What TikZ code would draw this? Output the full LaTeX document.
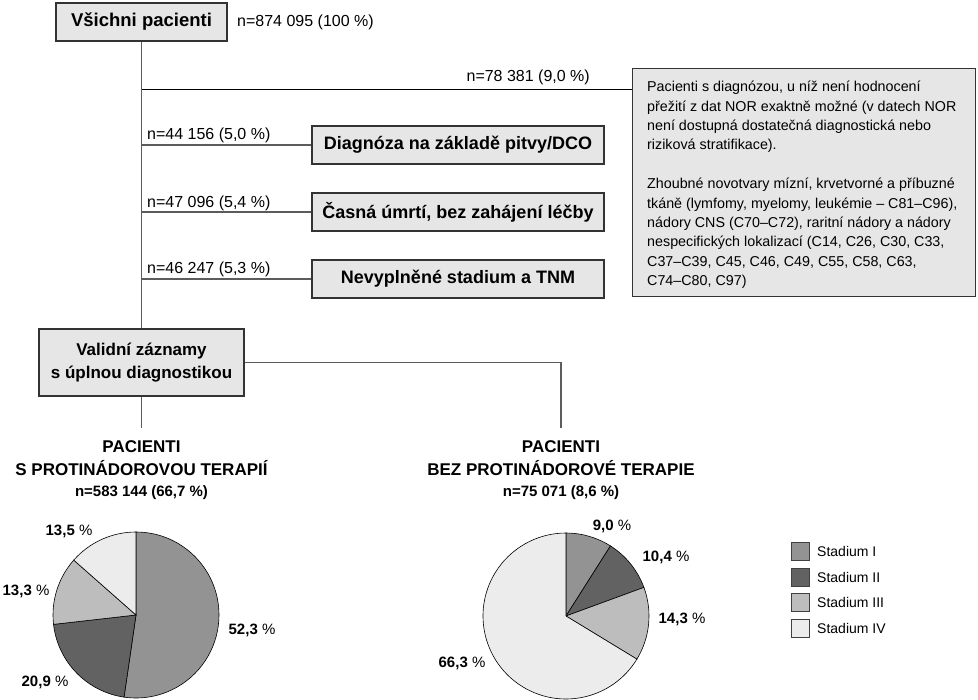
\documentclass[tikz,border=0pt]{standalone}
\usepackage{fontspec}
\setmainfont{Liberation Sans}
\definecolor{boxfill}{HTML}{E6E6E6}
\definecolor{boxline}{HTML}{333333}
\definecolor{conn}{HTML}{5C5C5C}
\definecolor{stI}{HTML}{939393}
\definecolor{stII}{HTML}{626262}
\definecolor{stIII}{HTML}{BDBDBD}
\definecolor{stIV}{HTML}{ECECEC}
\begin{document}
\begin{tikzpicture}[x=1pt,y=-1pt,
  graybox/.style={draw=boxline, fill=boxfill, line width=1.1pt, inner sep=0pt},
  conline/.style={draw=conn, line width=1.2pt},
  nlabel/.style={font=\fontsize{16}{18}\selectfont, inner sep=0pt},
  boxtext/.style={font=\fontsize{18}{20}\selectfont\bfseries},
  sidebox/.style={graybox, minimum width=292pt, minimum height=38pt, boxtext},
  titletext/.style={font=\fontsize{17}{20}\selectfont\bfseries, inner sep=0pt, anchor=base},
  subtitletext/.style={font=\fontsize{15}{18}\selectfont\bfseries, inner sep=0pt, anchor=base},
  pielabel/.style={font=\fontsize{15}{18}\selectfont, inner sep=0pt},
  wedge/.style={draw=black, line width=0.6pt},
  legsq/.style={draw=black!75, line width=0.8pt, minimum size=18pt, inner sep=0pt},
  legtext/.style={font=\fontsize{14}{16}\selectfont, inner sep=0pt, anchor=west}
]
\useasboundingbox (0,0) rectangle (978,700);

% top box
\node[graybox, minimum width=171pt, minimum height=38pt, font=\fontsize{18.5}{20}\selectfont\bfseries] (all) at (141.5,22) {Všichni pacienti};
\node[nlabel, anchor=west] (alln) at (237,22) {n=874 095 (100 \%)};

% note box
\node[draw=boxline, fill=boxfill, line width=1pt, minimum width=343pt, minimum height=228pt, inner sep=0pt] (note) at (803.5,183) {};
\node[anchor=north west, align=left, inner sep=0pt, font=\fontsize{14.3}{19.4}\selectfont] (notetext) at (647,81) {Pacienti s diagnózou, u níž není hodnocení\\
přežití z dat NOR exaktně možné (v datech NOR\\
není dostupná dostatečná diagnostická nebo\\
riziková stratifikace).\\[19.4pt]
Zhoubné novotvary mízní, krvetvorné a příbuzné\\
tkáně (lymfomy, myelomy, leukémie – C81–C96),\\
nádory CNS (C70–C72), raritní nádory a nádory\\
nespecifických lokalizací (C14, C26, C30, C33,\\
C37–C39, C45, C46, C49, C55, C58, C63,\\
C74–C80, C97)};

% side boxes
\node[sidebox] (diag) at (458,145) {Diagnóza na základě pitvy/DCO};
\node[sidebox] (casna) at (458,212) {Časná úmrtí, bez zahájení léčby};
\node[sidebox] (nevyp) at (458,279) {Nevyplněné stadium a TNM};

% valid box
\node[graybox, minimum width=205pt, minimum height=67pt, align=center, font=\fontsize{17}{23}\selectfont\bfseries] (valid) at (141.5,362.5) {Validní záznamy\\s úplnou diagnostikou};

% labels
\node[nlabel, anchor=east] (n0) at (590,77) {n=78 381 (9,0 \%)};
\node[nlabel, anchor=west] (n1) at (147,135) {n=44 156 (5,0 \%)};
\node[nlabel, anchor=west] (n2) at (147,203) {n=47 096 (5,4 \%)};
\node[nlabel, anchor=west] (n3) at (147,269) {n=46 247 (5,3 \%)};

% connectors
\coordinate (j0) at (141.5,89);
\draw[conline] (all.south) -- (valid.north);
\draw[line width=0.9pt, black] (j0) -- (j0 -| note.west);
\draw[conline] (diag.west -| all.south) -- (diag.west);
\draw[conline] (casna.west -| all.south) -- (casna.west);
\draw[conline] (nevyp.west -| all.south) -- (nevyp.west);
\coordinate (l2) at (141.5,428);
\coordinate (r2) at (561,428);
\draw[conline] (valid.south) -- (l2);
\draw[conline] (valid.east) -| (r2);

% titles
\node[titletext] (t1a) at (141.5,453) {PACIENTI};
\node[titletext] (t1b) at (141.5,476) {S PROTINÁDOROVOU TERAPIÍ};
\node[subtitletext] (t1c) at (141.5,497) {n=583 144 (66,7 \%)};
\node[titletext] (t2a) at (561,453) {PACIENTI};
\node[titletext] (t2b) at (561,476) {BEZ PROTINÁDOROVÉ TERAPIE};
\node[subtitletext] (t2c) at (561,497) {n=75 071 (8,6 \%)};

% pie 1
\coordinate (p1) at (136,615);
\filldraw[wedge, fill=stI] (p1) -- ++(90:83pt) arc[start angle=90, end angle=-98.28, radius=83pt] -- cycle;
\filldraw[wedge, fill=stII] (p1) -- ++(-98.28:83pt) arc[start angle=-98.28, end angle=-173.52, radius=83pt] -- cycle;
\filldraw[wedge, fill=stIII] (p1) -- ++(-173.52:83pt) arc[start angle=-173.52, end angle=-221.4, radius=83pt] -- cycle;
\filldraw[wedge, fill=stIV] (p1) -- ++(-221.4:83pt) arc[start angle=-221.4, end angle=-270, radius=83pt] -- cycle;
\node[pielabel] (a1) at (252,630) {\textbf{52,3} \%};
\node[pielabel] (a2) at (45,682) {\textbf{20,9} \%};
\node[pielabel] (a3) at (26,591) {\textbf{13,3} \%};
\node[pielabel] (a4) at (69,531) {\textbf{13,5} \%};

% pie 2
\coordinate (p2) at (566,616);
\filldraw[wedge, fill=stI] (p2) -- ++(90:83pt) arc[start angle=90, end angle=57.6, radius=83pt] -- cycle;
\filldraw[wedge, fill=stII] (p2) -- ++(57.6:83pt) arc[start angle=57.6, end angle=20.16, radius=83pt] -- cycle;
\filldraw[wedge, fill=stIII] (p2) -- ++(20.16:83pt) arc[start angle=20.16, end angle=-31.32, radius=83pt] -- cycle;
\filldraw[wedge, fill=stIV] (p2) -- ++(-31.32:83pt) arc[start angle=-31.32, end angle=-270, radius=83pt] -- cycle;
\node[pielabel] (b1) at (612,526) {\textbf{9,0} \%};
\node[pielabel] (b2) at (666,557) {\textbf{10,4} \%};
\node[pielabel] (b3) at (682,619) {\textbf{14,3} \%};
\node[pielabel] (b4) at (462,663) {\textbf{66,3} \%};

% legend
\node[legsq, fill=stI] (g1) at (800,551) {};
\node[legsq, fill=stII] (g2) at (800,577) {};
\node[legsq, fill=stIII] (g3) at (800,602) {};
\node[legsq, fill=stIV] (g4) at (800,628) {};
\node[legtext] (h1) at (817,551) {Stadium I};
\node[legtext] (h2) at (817,577) {Stadium II};
\node[legtext] (h3) at (817,602) {Stadium III};
\node[legtext] (h4) at (817,628) {Stadium IV};
\end{tikzpicture}
\end{document}
